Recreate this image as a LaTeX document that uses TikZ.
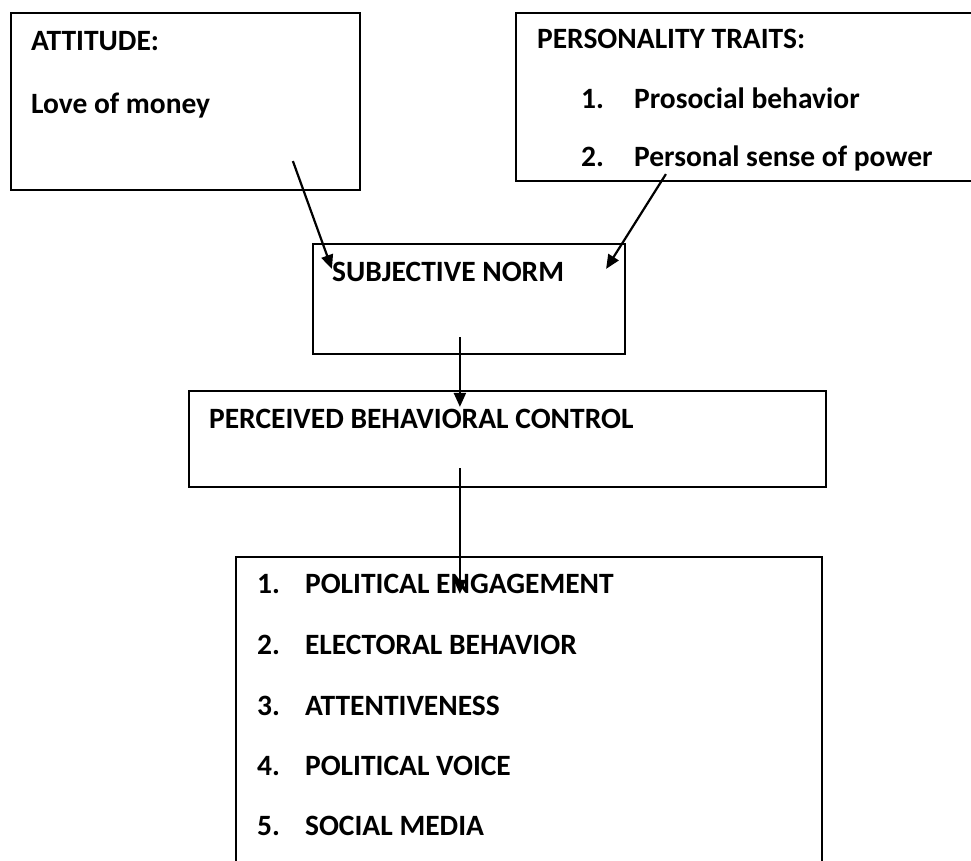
\documentclass[tikz,border=0pt]{standalone}
\usepackage{fontspec}
\setmainfont{Carlito}
\usetikzlibrary{arrows.meta,positioning,calc}
\tikzset{
  tpb/.style={font=\bfseries\fontsize{29.5}{34}\selectfont, text=black},
  tpbbox/.style={draw=black, line width=2.2pt, rectangle, inner sep=0pt},
  tpbtxt/.style={anchor=base west, inner sep=0pt},
  tpbarr/.style={-{Triangle[length=14pt,width=12pt]}, line width=2.2pt, draw=black},
}
\newcommand{\tpbnum}[2][48pt]{\makebox[#1][l]{#2}}
\begin{document}
\begin{tikzpicture}[tpb, x=1pt, y=-1pt]
  \useasboundingbox (0,0) rectangle (971,861);
  % boxes
  \node[tpbbox, minimum width=349pt, minimum height=177pt] (att) at (185.5,101.5) {};
  \node[tpbbox, minimum width=490pt, minimum height=168pt] (pers) at (761,97) {};
  \node[tpbbox, minimum width=312pt, minimum height=110pt] (subj) at (469,299) {};
  \node[tpbbox, minimum width=637pt, minimum height=96pt] (pbc) at (507.5,439) {};
  \node[tpbbox, minimum width=586pt, minimum height=323pt] (outc) at (529,718.5) {};
  % texts
  \node[tpbtxt] (atttitle) at ($(att.north west)+(21,39)$) {ATTITUDE:};
  \node[tpbtxt] (attlove) at ($(att.north west)+(21,102)$) {Love of money};
  \begin{scope}
    \clip (pers.north west) rectangle ($(pers.south east)+(0,-12)$);
    \node[tpbtxt] (perstitle) at ($(pers.north west)+(22,37)$) {PERSONALITY TRAITS:};
    \node[tpbtxt] (persone) at ($(pers.north west)+(66,97)$) {\tpbnum[53pt]{1.}Prosocial behavior};
    \node[tpbtxt] (perstwo) at ($(pers.north west)+(66,155)$) {\tpbnum[53pt]{2.}Personal sense of power};
  \end{scope}
  \node[tpbtxt] (subjtxt) at ($(subj.north west)+(20,39)$) {SUBJECTIVE NORM};
  \node[tpbtxt] (pbctxt) at ($(pbc.north west)+(21,39)$) {PERCEIVED BEHAVIORAL CONTROL};
  \node[tpbtxt] (outone) at ($(outc.north west)+(22,38)$) {\tpbnum{1.}POLITICAL ENGAGEMENT};
  \node[tpbtxt] (outtwo) at ($(outc.north west)+(22,99)$) {\tpbnum{2.}ELECTORAL BEHAVIOR};
  \node[tpbtxt] (outthree) at ($(outc.north west)+(22,160)$) {\tpbnum{3.}ATTENTIVENESS};
  \node[tpbtxt] (outfour) at ($(outc.north west)+(22,220)$) {\tpbnum{4.}POLITICAL VOICE};
  \node[tpbtxt] (outfive) at ($(outc.north west)+(22,280)$) {\tpbnum{5.}SOCIAL MEDIA};
  % arrow ends
  \coordinate (attout) at ($(att.south west)+(283,-30)$);
  \coordinate (subjinl) at ($(subj.north west)+(20,26)$);
  \coordinate (persout) at ($(pers.south west)+(151,-8)$);
  \coordinate (subjinr) at ($(subj.north east)+(-20,26)$);
  \coordinate (subjout) at ($(subj.south west)+(148,-18)$);
  \coordinate (pbcin) at ($(pbc.north west)+(272,17)$);
  \coordinate (pbcout) at ($(pbc.south west)+(272,-20)$);
  \coordinate (outcin) at ($(outc.north west)+(225,38)$);
  \draw[tpbarr] (attout) -- (subjinl);
  \draw[tpbarr] (persout) -- (subjinr);
  \draw[tpbarr] (subjout) -- (pbcin);
  \draw[tpbarr] (pbcout) -- (outcin);
\end{tikzpicture}
\end{document}
